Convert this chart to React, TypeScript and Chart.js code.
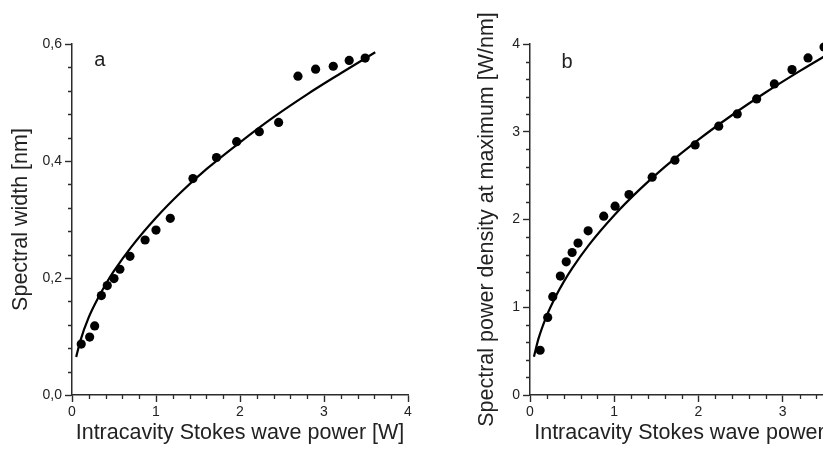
import React, { useEffect, useRef } from "react";
import { Chart, registerables } from "chart.js";

Chart.register(...registerables);

// ---------- Data ----------
// Panel a: spectral width vs intracavity Stokes power
const aPowerW = [0.11, 0.21, 0.27, 0.35, 0.42, 0.5, 0.57, 0.69, 0.87, 1.0, 1.17, 1.44, 1.72, 1.96, 2.23, 2.46, 2.69, 2.9, 3.11, 3.3, 3.49];
const aWidthNm = [0.087, 0.099, 0.118, 0.17, 0.187, 0.199, 0.215, 0.237, 0.265, 0.282, 0.302, 0.37, 0.406, 0.433, 0.45, 0.466, 0.545, 0.557, 0.562, 0.572, 0.576];
const aFitPowerW = [0.05, 0.1, 0.2, 0.3, 0.4, 0.5, 0.7, 1.0, 1.3, 1.6, 2.0, 2.4, 2.8, 3.2, 3.61];
const aFitWidthNm = [0.065, 0.093, 0.133, 0.163, 0.189, 0.212, 0.252, 0.303, 0.347, 0.386, 0.432, 0.475, 0.514, 0.55, 0.586];

// Panel b: spectral power density at maximum vs intracavity Stokes power
const bPowerW = [0.12, 0.21, 0.27, 0.36, 0.43, 0.5, 0.57, 0.69, 0.875, 1.01, 1.175, 1.45, 1.72, 1.96, 2.24, 2.46, 2.69, 2.9, 3.11, 3.3, 3.49];
const bDensity = [0.51, 0.884, 1.12, 1.355, 1.518, 1.624, 1.731, 1.871, 2.038, 2.152, 2.285, 2.482, 2.676, 2.85, 3.063, 3.203, 3.374, 3.545, 3.708, 3.841, 3.966];
const bFitPowerW = [0.047, 0.1, 0.2, 0.3, 0.4, 0.5, 0.7, 1.0, 1.3, 1.6, 2.0, 2.4, 2.8, 3.2, 3.6];
const bFitDensity = [0.436, 0.639, 0.908, 1.114, 1.289, 1.443, 1.711, 2.049, 2.34, 2.599, 2.91, 3.191, 3.45, 3.691, 3.92];

// Axis / tick settings
const xRange = [0, 4];
const aYRange = [0, 0.6];
const bYRange = [0, 4];
const xMajorStep = 1;
const xMinorStep = 0.2;
const aYMajorStep = 0.2;
const aYMinorStep = 0.04;
const bYMajorStep = 1;
const bYMinorStep = 0.2;

const xTitle = "Intracavity Stokes wave power [W]";
const aYTitle = "Spectral width [nm]";
const bYTitle = "Spectral power density at maximum [W/nm]";
const aLetter = { text: "a", x: 0.33, y: 0.571 };
const bLetter = { text: "b", x: 0.44, y: 3.79 };

const FONT = "'Liberation Sans', Arial, Helvetica, sans-serif";
const AXIS_COLOR = "#2b2b2b";
const TEXT_COLOR = "#222";

const toPts = (xs: number[], ys: number[]) => xs.map((x, i) => ({ x, y: ys[i] }));

const minorTicksPlugin = {
  id: "minorTicks",
  afterDraw(chart: any, _args: any, opts: any) {
    const { ctx } = chart;
    const xs = chart.scales.x;
    const ys = chart.scales.y;
    ctx.save();
    ctx.strokeStyle = AXIS_COLOR;
    ctx.lineWidth = 1.3;
    ctx.beginPath();
    const nx = Math.round((xs.max - xs.min) / opts.xMinor);
    const rx = Math.round(opts.xMajor / opts.xMinor);
    for (let i = 0; i <= nx; i++) {
      if (i % rx === 0) continue;
      const px = Math.round(xs.getPixelForValue(xs.min + i * opts.xMinor)) + 0.5;
      ctx.moveTo(px, xs.top);
      ctx.lineTo(px, xs.top + 4);
    }
    const ny = Math.round((ys.max - ys.min) / opts.yMinor);
    const ry = Math.round(opts.yMajor / opts.yMinor);
    for (let i = 0; i <= ny; i++) {
      if (i % ry === 0) continue;
      const py = Math.round(ys.getPixelForValue(ys.min + i * opts.yMinor)) + 0.5;
      ctx.moveTo(ys.right, py);
      ctx.lineTo(ys.right - 4, py);
    }
    ctx.stroke();
    ctx.restore();
  },
};

const letterPlugin = {
  id: "panelLetter",
  afterDraw(chart: any, _args: any, opts: any) {
    const { ctx } = chart;
    const px = chart.scales.x.getPixelForValue(opts.x);
    const py = chart.scales.y.getPixelForValue(opts.y);
    ctx.save();
    ctx.fillStyle = TEXT_COLOR;
    ctx.font = `20px ${FONT}`;
    ctx.textAlign = "center";
    ctx.textBaseline = "middle";
    ctx.fillText(opts.text, px, py);
    ctx.restore();
  },
};

type PanelProps = {
  width: number;
  height: number;
  left: number;
  yAxisWidth: number;
  padRight: number;
  yTitlePad: number;
  xs: number[];
  ys: number[];
  fx: number[];
  fy: number[];
  yRange: number[];
  yMajor: number;
  yMinor: number;
  yTitle: string;
  letter: { text: string; x: number; y: number };
  comma: boolean;
};

function Panel(p: PanelProps) {
  const ref = useRef<HTMLCanvasElement | null>(null);
  useEffect(() => {
    if (!ref.current) return;
    const chart = new Chart(ref.current, {
      type: "scatter",
      data: {
        datasets: [
          {
            label: "fit",
            data: toPts(p.fx, p.fy),
            showLine: true,
            borderColor: "#000",
            borderWidth: 2.2,
            pointRadius: 0,
            cubicInterpolationMode: "monotone",
            order: 2,
          } as any,
          {
            label: "measured",
            data: toPts(p.xs, p.ys),
            showLine: false,
            pointRadius: 4.6,
            pointBackgroundColor: "#000",
            pointBorderColor: "#000",
            pointBorderWidth: 0,
            order: 1,
          } as any,
        ],
      },
      options: {
        responsive: false,
        animation: false,
        devicePixelRatio: 1,
        clip: false as any,
        layout: { padding: { top: 44, right: p.padRight, left: 0, bottom: 0 } },
        plugins: {
          legend: { display: false },
          tooltip: { enabled: false },
          minorTicks: { xMajor: xMajorStep, xMinor: xMinorStep, yMajor: p.yMajor, yMinor: p.yMinor },
          panelLetter: p.letter,
        } as any,
        scales: {
          x: {
            type: "linear",
            min: xRange[0],
            max: xRange[1],
            afterFit: (s: any) => {
              s.height = 59;
            },
            border: { display: true, color: AXIS_COLOR, width: 1.5 },
            grid: { drawOnChartArea: false, drawTicks: true, tickLength: 7, tickColor: AXIS_COLOR, tickWidth: 1.4 },
            ticks: {
              stepSize: xMajorStep,
              color: TEXT_COLOR,
              font: { family: FONT, size: 14 },
              padding: 2,
              maxRotation: 0,
            },
            title: {
              display: true,
              text: xTitle,
              color: TEXT_COLOR,
              font: { family: FONT, size: 21.5 },
              padding: { bottom: 8, top: 0 },
            },
          },
          y: {
            type: "linear",
            min: p.yRange[0],
            max: p.yRange[1],
            afterFit: (s: any) => {
              s.width = p.yAxisWidth;
            },
            border: { display: true, color: AXIS_COLOR, width: 1.5 },
            grid: { drawOnChartArea: false, drawTicks: true, tickLength: 7, tickColor: AXIS_COLOR, tickWidth: 1.4 },
            ticks: {
              stepSize: p.yMajor,
              color: TEXT_COLOR,
              font: { family: FONT, size: 14 },
              padding: 3,
              callback: (v: any) => (p.comma ? Number(v).toFixed(1).replace(".", ",") : String(v)),
            },
            title: {
              display: true,
              text: p.yTitle,
              color: TEXT_COLOR,
              font: { family: FONT, size: 21.5 },
              padding: { top: p.yTitlePad, bottom: 0 },
            },
          },
        },
      },
      plugins: [minorTicksPlugin, letterPlugin],
    });
    return () => chart.destroy();
  }, []);
  return (
    <canvas
      ref={ref}
      width={p.width}
      height={p.height}
      style={{ position: "absolute", left: p.left, top: 0, width: p.width, height: p.height }}
    />
  );
}

export default function App() {
  return (
    <div
      style={{
        position: "fixed",
        left: 0,
        top: 0,
        width: 823,
        height: 454,
        overflow: "hidden",
        background: "#fff",
      }}
    >
      <Panel
        width={420}
        height={454}
        left={0}
        yAxisWidth={72}
        padRight={12}
        yTitlePad={8}
        xs={aPowerW}
        ys={aWidthNm}
        fx={aFitPowerW}
        fy={aFitWidthNm}
        yRange={aYRange}
        yMajor={aYMajorStep}
        yMinor={aYMinorStep}
        yTitle={aYTitle}
        letter={aLetter}
        comma={true}
      />
      <Panel
        width={460}
        height={454}
        left={420}
        yAxisWidth={110}
        padRight={13}
        yTitlePad={54}
        xs={bPowerW}
        ys={bDensity}
        fx={bFitPowerW}
        fy={bFitDensity}
        yRange={bYRange}
        yMajor={bYMajorStep}
        yMinor={bYMinorStep}
        yTitle={bYTitle}
        letter={bLetter}
        comma={false}
      />
    </div>
  );
}
